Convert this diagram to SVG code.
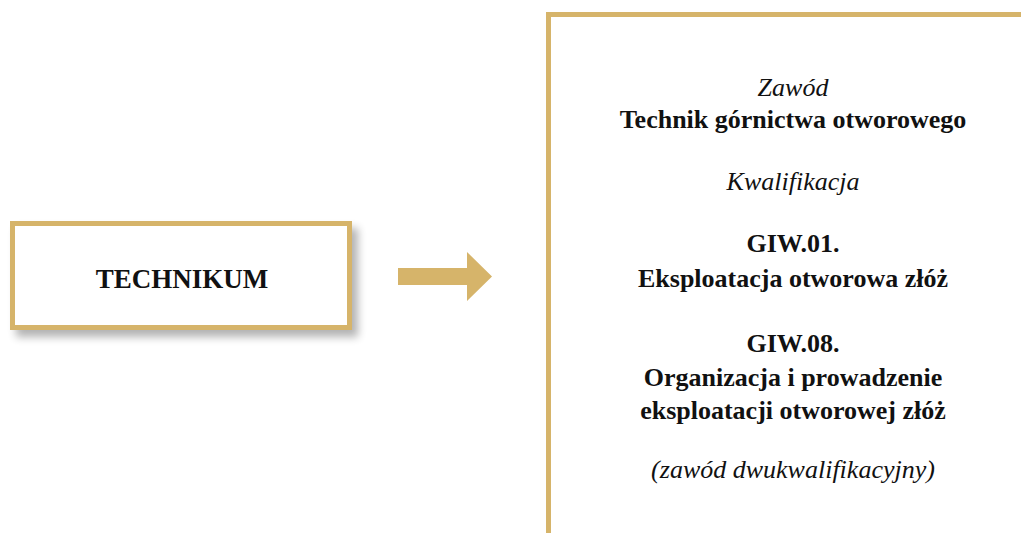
<svg xmlns="http://www.w3.org/2000/svg" width="1021" height="533" viewBox="0 0 1021 533">
<style>
.frame{fill:#fff;stroke:#D6B46A;stroke-width:5}
.t{font-family:"Liberation Serif","Times New Roman",serif;font-size:26px;fill:#111;text-anchor:middle}
.b{font-weight:bold}
.i{font-style:italic}
</style>
<defs>
<filter id="sh" x="-10%" y="-20%" width="130%" height="150%">
<feGaussianBlur in="SourceAlpha" stdDeviation="4"/>
<feOffset dx="6" dy="7" result="o"/>
<feComponentTransfer><feFuncA type="linear" slope="0.3"/></feComponentTransfer>
<feMerge><feMergeNode/><feMergeNode in="SourceGraphic"/></feMerge>
</filter>
</defs>
<rect width="1021" height="533" fill="#fff"/>
<g id="technikum">
<rect class="frame" x="12.5" y="223.5" width="337" height="104" filter="url(#sh)"/>
<text class="t b" x="182" y="288" style="font-size:27px">TECHNIKUM</text>
</g>
<g id="connectors">
<polygon points="398,268 467,268 467,252 492,276.5 467,301 467,285 398,285" fill="#D6B46A"/>
</g>
<g id="zawod">
<path d="M548.5,540 V14.5 H1030" fill="none" stroke="#D6B46A" stroke-width="5"/>
<text class="t i" x="793" y="96">Zawód</text>
<text class="t b" x="793" y="128">Technik górnictwa otworowego</text>
<text class="t i" x="793" y="190">Kwalifikacja</text>
<text class="t b" x="793" y="252">GIW.01.</text>
<text class="t b" x="793" y="287">Eksploatacja otworowa złóż</text>
<text class="t b" x="793" y="352">GIW.08.</text>
<text class="t b" x="793" y="386">Organizacja i prowadzenie</text>
<text class="t b" x="793" y="419">eksploatacji otworowej złóż</text>
<text class="t i" x="793" y="478">(zawód dwukwalifikacyjny)</text>
</g>
</svg>
